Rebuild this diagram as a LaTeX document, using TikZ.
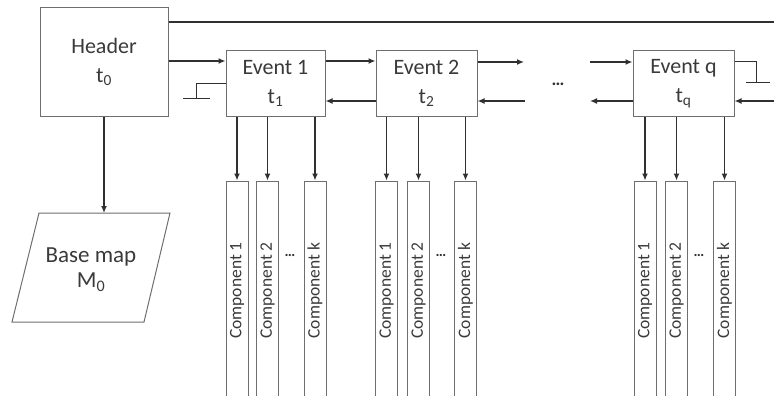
\documentclass[tikz,border=0pt]{standalone}
\usepackage{fontspec}
\setmainfont{Carlito}
\usetikzlibrary{arrows.meta}
\definecolor{boxc}{HTML}{6E6E6E}
\definecolor{linec}{HTML}{303030}
\definecolor{txtc}{HTML}{3A3A3A}
\begin{document}
\begin{tikzpicture}[x=1pt,y=-1pt,
  box/.style={draw=boxc, line width=1pt, fill=white, text=txtc, font=\fontsize{22}{29}\selectfont, align=center, inner sep=0pt},
  evbox/.style={box, minimum width=100pt, minimum height=65pt},
  comp/.style={draw=boxc, line width=1pt, minimum width=22pt, minimum height=219pt, inner sep=0pt},
  ctext/.style={rotate=90, font=\fontsize{17.5}{18}\selectfont, text=txtc, inner sep=0pt},
  arr/.style={draw=linec, line width=1.3pt, -{Latex[length=7pt,width=6pt]}},
  ln/.style={draw=linec, line width=1.3pt},
  dots/.style={text=linec, font=\fontsize{18}{18}\selectfont\bfseries, inner sep=0pt}
]
\useasboundingbox (0,0) rectangle (774,396);
\clip (0,0) rectangle (774,396);

% main boxes
\node[box, minimum width=128pt, minimum height=109pt] (hdr) at (104,62) {Header\\t\textsubscript{0}};
\node[evbox, minimum width=99pt] (e1) at (275.5,83.5) {Event 1\\t\textsubscript{1}};
\node[evbox, minimum width=101pt] (e2) at (426.5,83.5) {Event 2\\t\textsubscript{2}};
\node[evbox, minimum width=101pt] (eq) at (683.5,83.5) {Event q\\t\textsubscript{q}};

% base map
\draw[draw=boxc, line width=1pt] (39,213) -- (170,213) -- (144,322) -- (12,322) -- cycle;
\node[text=txtc, font=\fontsize{23}{25}\selectfont, align=center, inner sep=0pt] (bm) at (91,270) {Base map\\M\textsubscript{0}};
\coordinate (bmtop) at (104,213);
\draw[arr] (hdr.south -| bmtop) -- (bmtop);

% top line
\coordinate (topend) at (774,22);
\draw[ln] (hdr.east |- topend) -- (topend);

% chain connectors
\draw[arr] (hdr.east |- 0,61) -- (e1.west |- 0,61);
\draw[arr] (e1.east |- 0,61) -- (e2.west |- 0,61);
\draw[arr] (e2.west |- 0,101) -- (e1.east |- 0,101);
\coordinate (a2r) at (524,62);
\coordinate (a2l) at (525,101);
\draw[arr] (e2.east |- a2r) -- (a2r);
\draw[arr] (a2l) -- (e2.east |- a2l);
\node[dots] (mdots) at (558,84) {…};
\coordinate (aqr) at (590,62);
\coordinate (aql) at (590,101);
\draw[arr] (aqr) -- (eq.west |- aqr);
\draw[arr] (eq.west |- aql) -- (aql);
\coordinate (rin) at (774,101);
\draw[arr] (rin) -- (eq.east |- rin);

% ground symbols
\coordinate (g1) at (196,84);
\draw[ln, line width=1pt] (e1.west |- g1) -- (g1) -- (196,98);
\draw[ln, line width=1pt] (183,98) -- (210,98);
\coordinate (g2) at (756,62);
\draw[ln, line width=1pt] (eq.east |- g2) -- (g2) -- (756,83);
\draw[ln, line width=1pt] (746,83) -- (770,83);

% components
\foreach \n/\x/\t in {c11/237/Component 1, c12/267.5/Component 2, c1k/315/Component k,
                       c21/386.5/Component 1, c22/418.5/Component 2, c2k/465.5/Component k,
                       cq1/645/Component 1, cq2/676.5/Component 2, cqk/724.5/Component k}{
  \node[comp, label={[ctext]center:\t}] (\n) at (\x,290.5) {};
}
\foreach \e/\c in {e1/c11, e1/c12, e1/c1k, e2/c21, e2/c22, e2/c2k, eq/cq1, eq/cq2, eq/cqk}{
  \draw[arr] (\c |- \e.south) -- (\c.north);
}
\node[dots, font=\fontsize{15}{15}\selectfont\bfseries] (d1) at (290,255) {…};
\node[dots, font=\fontsize{15}{15}\selectfont\bfseries] (d2) at (441,255) {…};
\node[dots, font=\fontsize{15}{15}\selectfont\bfseries] (d3) at (699,255) {…};
\end{tikzpicture}
\end{document}
